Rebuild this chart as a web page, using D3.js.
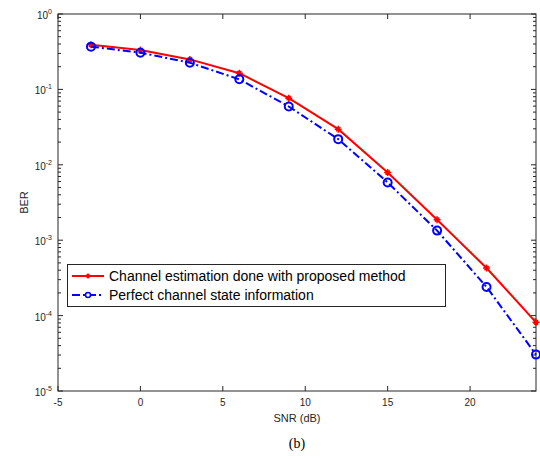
<!DOCTYPE html>
<html>
<head>
<meta charset="utf-8">
<script src="https://cdn.jsdelivr.net/npm/d3@7"></script>
<style>
  body { margin: 0; background: #fff; }
  svg { display: block; }
</style>
</head>
<body>
<svg id="chart" width="540" height="459"></svg>
<script>
var snr = [-3, 0, 3, 6, 9, 12, 15, 18, 21, 24];
var berEst = [0.39, 0.333, 0.25, 0.164, 0.0764, 0.0297, 0.0079, 0.00187, 0.000427, 0.0000815];
var berPerfect = [0.369, 0.307, 0.226, 0.136, 0.0593, 0.0219, 0.00583, 0.00134, 0.00024, 0.0000304];
var xTicks = [-5, 0, 5, 10, 15, 20];
var yDecades = [0, -1, -2, -3, -4, -5];
var seriesNames = ["Channel estimation done with proposed method", "Perfect channel state information"];

(function() {
  var svg = d3.select("#chart");
  var pl = 58, pr = 536, pt = 14, pb = 391;
  var axisColor = "#262626";

  var x = d3.scaleLinear().domain([-5, 24]).range([pl, pr]);
  var y = d3.scaleLog().domain([1e-5, 1]).range([pb, pt]);

  // box
  svg.append("rect")
    .attr("x", pl).attr("y", pt)
    .attr("width", pr - pl).attr("height", pb - pt)
    .attr("fill", "none").attr("stroke", axisColor).attr("stroke-width", 1);

  var ticks = svg.append("g").attr("stroke", axisColor).attr("stroke-width", 1);

  // x ticks (inward, bottom and top)
  xTicks.forEach(function(t) {
    ticks.append("line").attr("x1", x(t)).attr("x2", x(t)).attr("y1", pb).attr("y2", pb - 5);
    ticks.append("line").attr("x1", x(t)).attr("x2", x(t)).attr("y1", pt).attr("y2", pt + 5);
  });

  // y ticks major and minor
  yDecades.forEach(function(e) {
    var v = Math.pow(10, e);
    ticks.append("line").attr("x1", pl).attr("x2", pl + 5).attr("y1", y(v)).attr("y2", y(v));
    ticks.append("line").attr("x1", pr).attr("x2", pr - 5).attr("y1", y(v)).attr("y2", y(v));
    if (e > -5) {
      for (var m = 2; m <= 9; m++) {
        var mv = m * Math.pow(10, e - 1);
        ticks.append("line").attr("x1", pl).attr("x2", pl + 3).attr("y1", y(mv)).attr("y2", y(mv));
        ticks.append("line").attr("x1", pr).attr("x2", pr - 3).attr("y1", y(mv)).attr("y2", y(mv));
      }
    }
  });

  var labels = svg.append("g")
    .attr("font-family", "Liberation Sans, Arial, sans-serif")
    .attr("fill", axisColor);

  xTicks.forEach(function(t) {
    labels.append("text")
      .attr("x", x(t)).attr("y", 406)
      .attr("text-anchor", "middle")
      .attr("font-size", 10)
      .text(t);
  });

  yDecades.forEach(function(e) {
    var v = Math.pow(10, e);
    var txt = labels.append("text")
      .attr("x", 52).attr("y", y(v) + 5)
      .attr("text-anchor", "end")
      .attr("font-size", 10);
    txt.append("tspan").text("10");
    txt.append("tspan").attr("dy", -5).attr("font-size", 7).text(e);
  });

  labels.append("text")
    .attr("x", (pl + pr) / 2).attr("y", 422)
    .attr("text-anchor", "middle").attr("font-size", 11)
    .text("SNR (dB)");

  labels.append("text")
    .attr("transform", "translate(28," + ((pt + pb) / 2) + ") rotate(-90)")
    .attr("text-anchor", "middle").attr("font-size", 11)
    .text("BER");

  svg.append("text")
    .attr("x", 297).attr("y", 448)
    .attr("text-anchor", "middle")
    .attr("font-family", "Liberation Serif, Times New Roman, serif")
    .attr("font-size", 14).attr("fill", "#000")
    .text("(b)");

  var line = d3.line().x(function(d) { return x(d[0]); }).y(function(d) { return y(d[1]); });
  var estData = d3.zip(snr, berEst);
  var perfData = d3.zip(snr, berPerfect);

  function starMarker(g, cx, cy, s, color) {
    g.append("path")
      .attr("d", "M" + (cx - s) + "," + cy + "H" + (cx + s) +
        "M" + cx + "," + (cy - s) + "V" + (cy + s) +
        "M" + (cx - s * 0.6) + "," + (cy - s * 0.6) + "L" + (cx + s * 0.6) + "," + (cy + s * 0.6) +
        "M" + (cx - s * 0.6) + "," + (cy + s * 0.6) + "L" + (cx + s * 0.6) + "," + (cy - s * 0.6))
      .attr("stroke", color).attr("stroke-width", 1.5).attr("fill", "none");
  }

  var plot = svg.append("g");

  plot.append("path").datum(estData)
    .attr("d", line).attr("fill", "none")
    .attr("stroke", "#ff0000").attr("stroke-width", 2);
  estData.forEach(function(d) { starMarker(plot, x(d[0]), y(d[1]), 3.5, "#ff0000"); });

  plot.append("path").datum(perfData)
    .attr("d", line).attr("fill", "none")
    .attr("stroke", "#0000ff").attr("stroke-width", 2)
    .attr("stroke-dasharray", "8,3,2,3");
  perfData.forEach(function(d) {
    plot.append("circle").attr("cx", x(d[0])).attr("cy", y(d[1])).attr("r", 4)
      .attr("fill", "none").attr("stroke", "#0000ff").attr("stroke-width", 2);
  });

  // legend
  var lg = svg.append("g");
  lg.append("rect")
    .attr("x", 67.5).attr("y", 264.5).attr("width", 378).attr("height", 42)
    .attr("fill", "#fff").attr("stroke", axisColor).attr("stroke-width", 1);

  var rowY = [276, 295];
  lg.append("line").attr("x1", 72).attr("x2", 104).attr("y1", rowY[0]).attr("y2", rowY[0])
    .attr("stroke", "#ff0000").attr("stroke-width", 2);
  starMarker(lg, 88, rowY[0], 2.5, "#ff0000");
  lg.append("line").attr("x1", 72).attr("x2", 104).attr("y1", rowY[1]).attr("y2", rowY[1])
    .attr("stroke", "#0000ff").attr("stroke-width", 2).attr("stroke-dasharray", "8,3,2,3");
  lg.append("circle").attr("cx", 88).attr("cy", rowY[1]).attr("r", 2.5)
    .attr("fill", "#fff").attr("stroke", "#0000ff").attr("stroke-width", 1.5);

  seriesNames.forEach(function(n, i) {
    lg.append("text")
      .attr("x", 109).attr("y", rowY[i] + 5)
      .attr("font-family", "Liberation Sans, Arial, sans-serif")
      .attr("font-size", 14).attr("fill", "#000")
      .text(n);
  });
})();
</script>
</body>
</html>
